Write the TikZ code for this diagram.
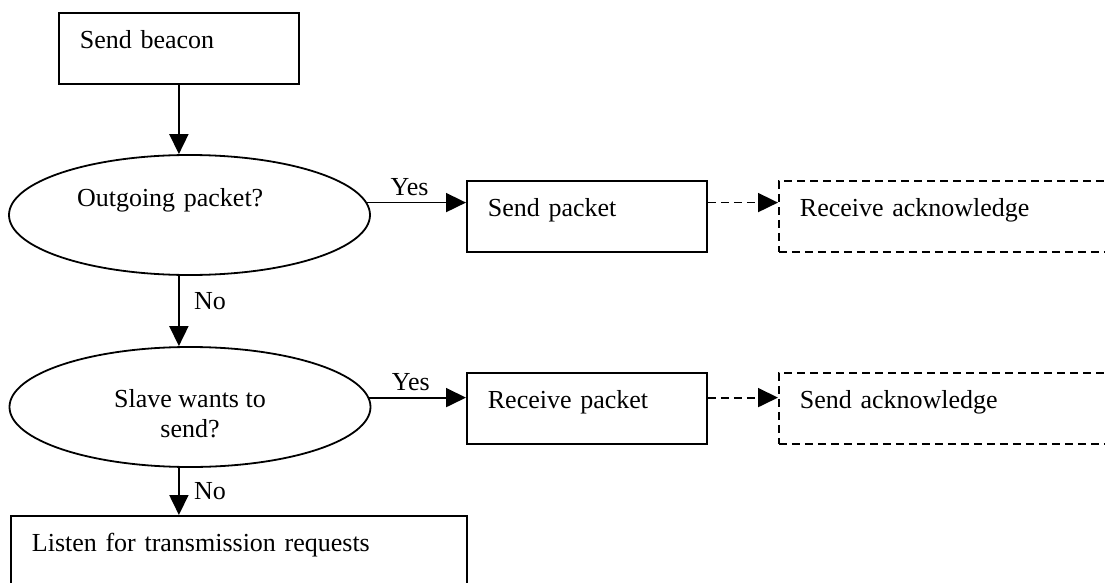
\documentclass[tikz,border=0pt]{standalone}
\usepackage{fontspec}
\setmainfont{Liberation Serif}
\usetikzlibrary{arrows.meta,positioning,shapes.geometric}
\tikzset{
  stepbox/.style={draw, rectangle, anchor=north west, inner xsep=21pt, inner ysep=0pt,
    text height=36pt, text depth=35pt, align=left},
  ackbox/.style={stepbox, dash pattern=on 8pt off 5pt},
  query/.style={draw, ellipse, inner sep=0pt, minimum width=361pt, minimum height=120pt},
  flow/.style={-{Triangle[length=20pt,width=19pt]}},
  dflow/.style={flow, dash pattern=on 8pt off 5pt},
}

\begin{document}
\begin{tikzpicture}[x=1pt, y=-1pt, line width=1.8pt, font=\fontsize{26}{30}\selectfont]
			%%%%% START %%%%%
			\useasboundingbox (0,0) rectangle (1105,583);
			\clip (0,0) rectangle (1105,583);
			
			\node[stepbox, text width=198pt] (beacon) at (58,12) {Send beacon};
			
			\node[query, text width=225pt, align=left, text height=18pt, text depth=35pt] (outq) at (189.5,215) {Outgoing packet?};
			\node[stepbox, text width=198pt] (sendpkt) at (466,180) {Send packet};
			\node[ackbox, text width=358pt] (rxack) at (778,180) {Receive acknowledge};
			
			\node[query, align=center, text height=60pt, text depth=0pt] (slaveq) at (190,407) {Slave wants to\\send?};
			\node[stepbox, text width=198pt] (rxpkt) at (466,372) {Receive packet};
			\node[ackbox, text width=358pt] (txack) at (778,372) {Send acknowledge};
			
			\node[stepbox, text width=414pt] (listen) at (10,515) {Listen for transmission requests};
			
			% down the left side
			\draw[flow] (beacon.south) -- (beacon.south |- outq.north);
			\draw[flow] (beacon.south |- outq.south) -- (beacon.south |- slaveq.north)
				node[pos=0.36, right=11pt] {No};
			\draw[flow] (beacon.south |- slaveq.south) -- (beacon.south |- listen.north)
				node[pos=0.5, right=11pt] {No};
			
			% yes branches
			\draw[flow] (outq.4) -- (outq.4 -| sendpkt.west) node[pos=0.43, above=3pt] {Yes};
			\draw[dflow] (outq.4 -| sendpkt.east) -- (outq.4 -| rxack.west);
			\draw[flow] (slaveq.3) -- (slaveq.3 -| rxpkt.west) node[pos=0.43, above=3pt] {Yes};
			\draw[dflow] (slaveq.3 -| rxpkt.east) -- (slaveq.3 -| txack.west);
			%%%%% END %%%%%
\end{tikzpicture}
\end{document}
